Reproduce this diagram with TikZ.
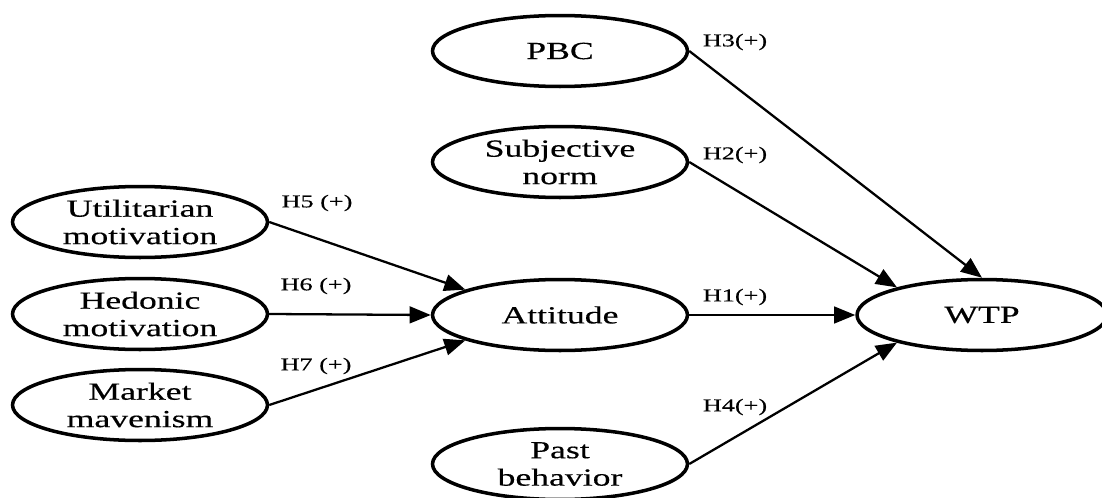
\documentclass[tikz,border=0pt]{standalone}
\usepackage{fontspec}
\setmainfont[FakeStretch=1.45,FakeBold=0.4]{Liberation Serif}
\usetikzlibrary{shapes.geometric}
\usetikzlibrary{arrows.meta}

\begin{document}
\begin{tikzpicture}[x=.02cm,y=-.02cm,
	bien/.style={draw,ellipse,line width=2pt,minimum width=5.1cm,minimum height=1.42cm,inner sep=0pt,align=center,font=\fontsize{14}{15.6}\selectfont},
	gt/.style={inner sep=0pt,font=\fontsize{10.3}{12}\selectfont},
	mt/.style={line width=1.3pt,-{Triangle[length=12pt,width=9.5pt]}}]
	\useasboundingbox (0,0) rectangle (1102,497);
	%cac bien doc lap
	\node[bien] (util) at (140,222) {Utilitarian\\motivation};
	\node[bien] (hed) at (140,314) {Hedonic\\motivation};
	\node[bien] (mav) at (140,405) {Market\\mavenism};
	\node[bien] (pbc) at (560,51) {PBC};
	\node[bien] (sn) at (560,162) {Subjective\\norm};
	\node[bien] (att) at (560,315) {Attitude};
	\node[bien] (pb) at (560,464) {Past\\behavior};
	\node[bien,minimum width=5cm] (wtp) at (982,315) {WTP};
	%mui ten
	\draw[mt] (util.east)--(att.165);
	\draw[mt] (hed.east)--(att.west);
	\draw[mt] (mav.east)--(att.195);
	\draw[mt] (att.east)--(wtp.west);
	\draw[mt] (pbc.east)--(wtp.north);
	\draw[mt] (sn.east)--(wtp.162);
	\draw[mt] (pb.east)--(wtp.198);
	%gia thuyet
	\node[gt] (h5) at (317,203) {H5 (+)};
	\node[gt] (h6) at (316,286) {H6 (+)};
	\node[gt] (h7) at (316,366) {H7 (+)};
	\node[gt] (h3) at (735,42) {H3(+)};
	\node[gt] (h2) at (735,155) {H2(+)};
	\node[gt] (h1) at (735,297) {H1(+)};
	\node[gt] (h4) at (735,407) {H4(+)};
\end{tikzpicture}
\end{document}
